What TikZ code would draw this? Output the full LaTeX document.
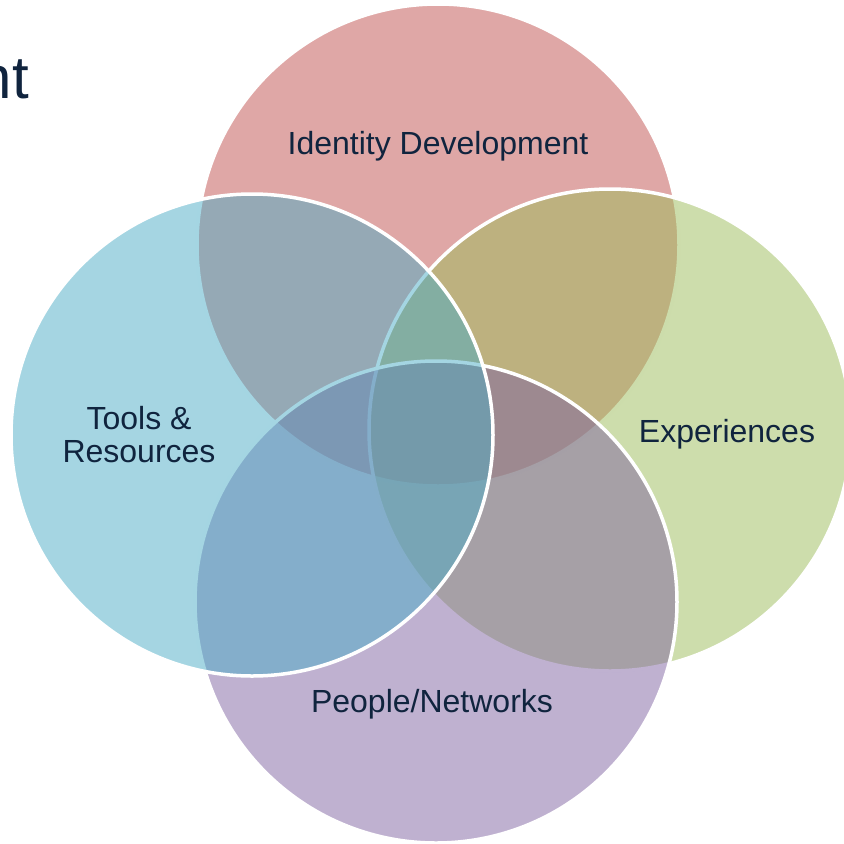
\documentclass[tikz,border=0pt]{standalone}
\usepackage{fontspec}
\setmainfont{Liberation Sans}
\definecolor{vennred}{HTML}{C0504D}
\definecolor{venngreen}{HTML}{9BBB59}
\definecolor{vennpurple}{HTML}{8064A2}
\definecolor{vennblue}{HTML}{4BACC6}
\definecolor{navy}{HTML}{10243E}
\tikzstyle{ring} = [circle, minimum size=482pt, inner sep=0pt, draw=white, line width=3.5pt, fill opacity=0.5]
\tikzstyle{venntext} = [text=navy, font=\fontsize{32}{33}\selectfont, align=center]
\tikzstyle{heading} = [text=navy, font=\fontsize{60}{66}\selectfont, inner sep=0pt]

\begin{document}
\begin{tikzpicture}[x=1pt, y=-1pt]
\useasboundingbox (0,0) rectangle (844,844);

\node (title) [heading, anchor=base east] at (29,98) {nt};

\node (identity) [ring, fill=vennred] at (438,245) {};
\node (experiences) [ring, fill=venngreen] at (610,430) {};
\node (people) [ring, fill=vennpurple] at (436,602) {};
\node (tools) [ring, fill=vennblue] at (252,435) {};

\node (identitytext) [venntext, anchor=base] at (438,154) {Identity Development};
\node (experiencestext) [venntext, anchor=base] at (727,442) {Experiences};
\node (peopletext) [venntext, anchor=base] at (432,712) {People/Networks};
\node (toolstext) [venntext] at (139,435) {Tools \&\\Resources};

\end{tikzpicture}
\end{document}
